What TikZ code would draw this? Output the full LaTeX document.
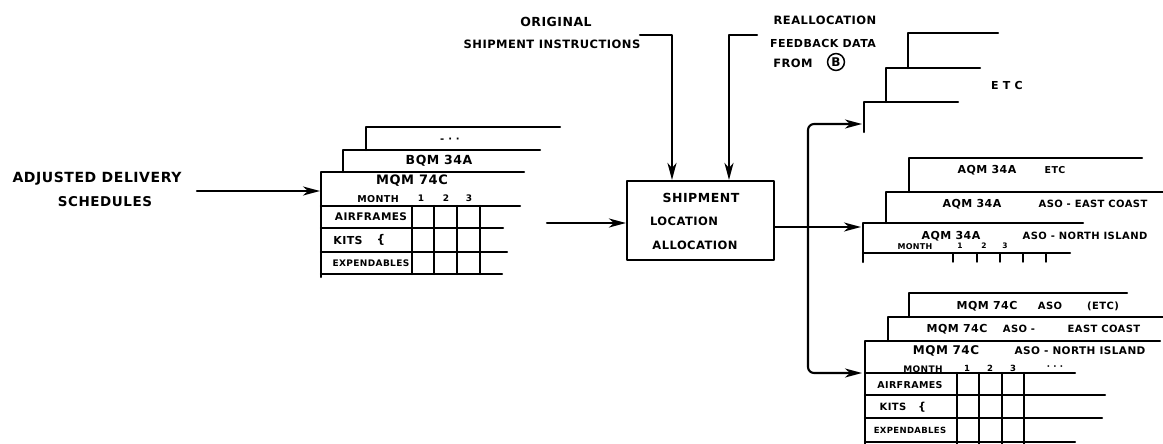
\documentclass[tikz,border=0pt]{standalone}
\usepackage{fontspec}
\newfontfamily\hand[LetterSpace=4]{DejaVu Sans Bold}
\usetikzlibrary{arrows.meta}
\begin{document}
\begin{tikzpicture}[x=1pt,y=-1pt,line width=2.1pt,line cap=round,line join=round,
  t/.style={font=\hand\fontsize{#1}{#1}\selectfont,inner sep=0pt},
  arr/.style={-{Stealth[length=17pt,width=9pt,inset=5pt]}},
  tick/.style={line width=1.4pt}]
\useasboundingbox (0,0) rectangle (1163,444);

% ---- left input ----
\node[t=14] (adj1) at (97,179) {ADJUSTED DELIVERY};
\node[t=13.5] (adj2) at (105,202) {SCHEDULES};
\coordinate (adjS) at (197,191);
\coordinate (tabL) at (320,191);
\draw[arr] (adjS) -- (tabL);

% ---- left table stack ----
\draw (366,150) -- (366,127) -- (560,127);
\node[t=10] (ldots) at (450,140) {- · ·};
\draw (343,172) -- (343,150) -- (540,150);
\node[t=12.5] (lbqm) at (439,161) {BQM 34A};
\draw (321,277) -- (321,172) -- (524,172);
\node[t=13] (lmqm) at (412,181) {MQM 74C};
\node[t=9.5] (lmonth) at (378,199) {MONTH};
\node[t=9] (ln1) at (421,198) {1};
\node[t=9] (ln2) at (446,198) {2};
\node[t=9] (ln3) at (469,198) {3};
\draw (321,206) -- (520,206);
\draw (321,228) -- (503,228);
\draw (321,252) -- (507,252);
\draw (321,274) -- (502,274);
\foreach \x in {412,434,457,480} \draw (\x,206) -- (\x,274);
\node[t=10.5] (lair) at (371,217) {AIRFRAMES};
\node[t=11] (lkits) at (348,240) {KITS};
\node[t=12] (lbr) at (381,240) {\{};
\node[t=9] (lexp) at (371,263) {EXPENDABLES};

% ---- top inputs ----
\node[t=12.5] (orig) at (556,22) {ORIGINAL};
\node[t=11.5] (sinst) at (552,44) {SHIPMENT INSTRUCTIONS};
\node[t=11.5] (realloc) at (825,20) {REALLOCATION};
\node[t=11] (feed) at (823,43) {FEEDBACK DATA};
\node[t=11.5] (from) at (793,63) {FROM};
\node[t=12,draw,circle,inner sep=1.5pt,line width=1.5pt] (B) at (836,62) {B};

% ---- central box ----
\node[draw,minimum width=147pt,minimum height=79pt,inner sep=0pt] (box) at (700.5,220.5) {};
\node[t=12.5] (bx1) at (701,198) {SHIPMENT};
\node[t=11.5] (bx2) at (684,221) {LOCATION};
\node[t=11.5] (bx3) at (695,245) {ALLOCATION};

\coordinate (in1) at (640,35);
\coordinate (in2) at (757,35);
\draw[arr] (in1) -| ([xshift=-28.5pt]box.north);
\draw[arr] (in2) -| ([xshift=28.5pt]box.north);
\coordinate (min) at (547,223);
\draw[arr] (min) -- (min -| box.west);

% ---- output branches ----
\coordinate (J) at (808,227);
\draw (J -| box.east) -- (J);
\coordinate (etcIn) at (862,124);
\coordinate (aqmIn) at (861,227);
\coordinate (mqmIn) at (862,373);
\draw[arr,rounded corners=6pt] (J) |- (etcIn);
\draw[arr] (J) -- (aqmIn);
\draw[arr,rounded corners=6pt] (J) |- (mqmIn);

% ---- ETC stack ----
\draw (908,68) -- (908,33) -- (998,33);
\draw (886,102) -- (886,68) -- (980,68);
\draw (864,132) -- (864,102) -- (958,102);
\node[t=11] (etc) at (1007,85) {E T C};

% ---- AQM stack ----
\draw (909,192) -- (909,158) -- (1142,158);
\node[t=11] (a1a) at (987,170) {AQM 34A};
\node[t=9.5] (a1b) at (1055,170) {ETC};
\draw (886,223) -- (886,192) -- (1163,192);
\node[t=11] (a2a) at (972,204) {AQM 34A};
\node[t=10] (a2b) at (1093,204) {ASO - EAST COAST};
\draw (863,262) -- (863,223) -- (1083,223);
\node[t=11] (a3a) at (951,236) {AQM 34A};
\node[t=10] (a3b) at (1085,236) {ASO - NORTH ISLAND};
\node[t=8] (amonth) at (915,247) {MONTH};
\node[t=7.5] (an1) at (960,246) {1};
\node[t=7.5] (an2) at (984,246) {2};
\node[t=7.5] (an3) at (1005,246) {3};
\draw (863,253) -- (1070,253);
\foreach \x in {953,977,1000,1023,1046} \draw[tick] (\x,253) -- (\x,262);

% ---- MQM stack ----
\draw (909,317) -- (909,293) -- (1127,293);
\node[t=11] (m1a) at (987,306) {MQM 74C};
\node[t=10] (m1b) at (1050,306) {ASO};
\node[t=10] (m1c) at (1103,306) {(ETC)};
\draw (888,341) -- (888,317) -- (1163,317);
\node[t=11] (m2a) at (957,329) {MQM 74C};
\node[t=10] (m2b) at (1019,329) {ASO -};
\node[t=10] (m2c) at (1104,329) {EAST COAST};
\draw (865,444) -- (865,341) -- (1160,341);
\node[t=12] (m3a) at (946,351) {MQM 74C};
\node[t=10.5] (m3b) at (1080,351) {ASO - NORTH ISLAND};
\node[t=9] (mmonth) at (923,369) {MONTH};
\node[t=8.5] (mn1) at (967,368) {1};
\node[t=8.5] (mn2) at (990,368) {2};
\node[t=8.5] (mn3) at (1013,368) {3};
\node[t=8.5] (mdots) at (1055,368) {· · ·};
\draw (865,373) -- (1075,373);
\draw (865,395) -- (1105,395);
\draw (865,418) -- (1102,418);
\draw (865,442) -- (1075,442);
\foreach \x in {957,979,1002,1024} \draw (\x,373) -- (\x,444);
\node[t=9.5] (mair) at (910,385) {AIRFRAMES};
\node[t=10] (mkits) at (893,407) {KITS};
\node[t=11] (mbr) at (922,407) {\{};
\node[t=8.5] (mexp) at (910,430) {EXPENDABLES};
\end{tikzpicture}
\end{document}
